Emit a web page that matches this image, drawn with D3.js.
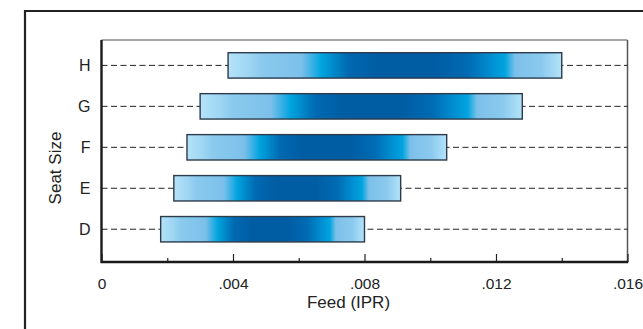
<!DOCTYPE html>
<html>
<head>
<meta charset="utf-8">
<script src="https://cdn.jsdelivr.net/npm/d3@7"></script>
<style>
  body { margin: 0; background: #fff; }
  svg { display: block; font-family: "Liberation Sans", Arial, sans-serif; }
</style>
</head>
<body>
<script>
// Data
const seatSizes = ["D", "E", "F", "G", "H"];
const feedMin = [0.0018, 0.0022, 0.0026, 0.003, 0.00385];
const feedMax = [0.008, 0.0091, 0.0105, 0.0128, 0.014];
const xTicks = [0, 0.004, 0.008, 0.012, 0.016];
const xMinorTicks = [0.002, 0.006, 0.01, 0.014];

const data = seatSizes.map((s, i) => ({ size: s, pos: i + 1, lo: feedMin[i], hi: feedMax[i] }));

const fullWidth = 643;
const fullHeight = 329;
const plot = { left: 101.5, right: 627.5, top: 40, bottom: 262 };

const svg = d3
  .select("body")
  .append("svg")
  .attr("width", fullWidth)
  .attr("height", fullHeight);

// Bar gradient
const grad = svg
  .append("defs")
  .append("linearGradient")
  .attr("id", "barGrad")
  .attr("x1", "0%")
  .attr("x2", "100%")
  .attr("y1", "0%")
  .attr("y2", "0%");

const stops = [
  [0, "#b4e3f9"],
  [0.06, "#9fd6f3"],
  [0.1, "#8bcaee"],
  [0.22, "#7cc0ea"],
  [0.28, "#00a4df"],
  [0.36, "#0069b1"],
  [0.45, "#005ca3"],
  [0.62, "#005ca3"],
  [0.72, "#006bb3"],
  [0.8, "#0095d6"],
  [0.83, "#00a4df"],
  [0.86, "#7cc0ea"],
  [0.94, "#8bcaee"],
  [1, "#b4e3f9"],
];
grad
  .selectAll("stop")
  .data(stops)
  .enter()
  .append("stop")
  .attr("offset", (d) => d[0])
  .attr("stop-color", (d) => d[1]);

// Outer frame
svg
  .append("path")
  .attr("d", `M25,${fullHeight}V11H${fullWidth + 5}`)
  .attr("fill", "none")
  .attr("stroke", "#222")
  .attr("stroke-width", 2.2);

// Scales
const x = d3.scaleLinear().domain([0, 0.016]).range([plot.left, plot.right]);
const y = d3.scaleLinear().domain([0.2, 5.62]).range([plot.bottom, plot.top]);
const barHalf = (y(0) - y(0.62)) / 2;

// Plot box top and right
svg
  .append("line")
  .attr("x1", plot.left)
  .attr("x2", plot.right)
  .attr("y1", plot.top)
  .attr("y2", plot.top)
  .attr("stroke", "#8a8a8a")
  .attr("stroke-width", 1.5);
svg
  .append("line")
  .attr("x1", plot.right)
  .attr("x2", plot.right)
  .attr("y1", plot.top)
  .attr("y2", plot.bottom)
  .attr("stroke", "#555")
  .attr("stroke-width", 1.5);

// Dashed guide lines
svg
  .selectAll(".guide")
  .data(data)
  .enter()
  .append("line")
  .attr("class", "guide")
  .attr("x1", plot.left)
  .attr("x2", plot.right)
  .attr("y1", (d) => y(d.pos))
  .attr("y2", (d) => y(d.pos))
  .attr("stroke", "#222")
  .attr("stroke-width", 1)
  .attr("stroke-dasharray", "6,3.5");

// Bars
svg
  .selectAll(".bar")
  .data(data)
  .enter()
  .append("rect")
  .attr("class", "bar")
  .attr("x", (d) => x(d.lo))
  .attr("y", (d) => y(d.pos) - barHalf)
  .attr("width", (d) => x(d.hi) - x(d.lo))
  .attr("height", barHalf * 2)
  .attr("fill", "url(#barGrad)")
  .attr("stroke", "#2d3b4a")
  .attr("stroke-width", 1.4);

// X axis
const xAxis = svg
  .append("g")
  .attr("transform", `translate(0,${plot.bottom})`)
  .call(
    d3
      .axisBottom(x)
      .tickValues(xTicks)
      .tickSize(-8)
      .tickPadding(16)
      .tickFormat((d) => (d === 0 ? "0" : d3.format(".3f")(d).replace(/^0/, "")))
  );
xAxis.select(".domain").remove();
xAxis.selectAll(".tick line").attr("stroke", "#222").attr("stroke-width", 1.2);
xAxis.selectAll(".tick text").attr("fill", "#222").style("font-size", "15.5px").attr("font-family", null);

const xMinor = svg
  .append("g")
  .attr("transform", `translate(0,${plot.bottom})`)
  .call(d3.axisBottom(x).tickValues(xMinorTicks).tickSize(-4).tickFormat(""));
xMinor.select(".domain").remove();
xMinor.selectAll(".tick line").attr("stroke", "#222").attr("stroke-width", 1.2);

// Y axis labels
const yAxis = svg
  .append("g")
  .attr("transform", `translate(${plot.left},0)`)
  .call(
    d3
      .axisLeft(y)
      .tickValues(data.map((d) => d.pos))
      .tickSize(0)
      .tickPadding(11)
      .tickFormat((d, i) => seatSizes[i])
  );
yAxis.select(".domain").remove();
yAxis.selectAll(".tick text").attr("fill", "#222").style("font-size", "16px").attr("font-family", null);

// Axis lines (left and bottom, heavy)
svg
  .append("path")
  .attr("d", `M${plot.left},${plot.top}V${plot.bottom}H${plot.right + 0.75}`)
  .attr("fill", "none")
  .attr("stroke", "#1a1a1a")
  .attr("stroke-width", 2.4);

// Axis titles
svg
  .append("text")
  .attr("x", (plot.left + plot.right) / 2 - 16)
  .attr("y", 308)
  .attr("text-anchor", "middle")
  .attr("fill", "#222")
  .style("font-size", "17px")
  .text("Feed (IPR)");

svg
  .append("text")
  .attr("transform", "translate(61,168) rotate(-90)")
  .attr("text-anchor", "middle")
  .attr("fill", "#222")
  .style("font-size", "17px")
  .text("Seat Size");
</script>
</body>
</html>
